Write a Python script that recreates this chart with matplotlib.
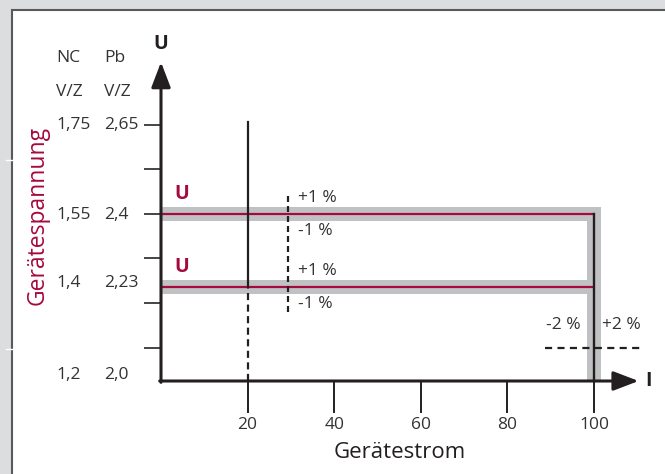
import matplotlib
matplotlib.use("Agg")
import matplotlib.pyplot as plt
from matplotlib.patches import Rectangle
from matplotlib.lines import Line2D

plt.rcParams['font.family'] = ['Open Sans', 'DejaVu Sans']

# data
x_ticks = [20, 40, 60, 80, 100]
y_ticks = [0.75, 1.75, 2.75, 3.75, 4.75, 5.75]
u_levels = [3.75, 2.1]                 # upper / lower voltage line
nc_labels = ['1,75', '1,55', '1,4', '1,2']
pb_labels = ['2,65', '2,4', '2,23', '2,0']
label_rows = [5.75, 3.72, 2.2, 0.14]
i_nominal = 100
i_test = 20
band = 0.16        # +-1% band (y units)
band_x = 1.7       # +-2% band (x units)

red = '#a6093d'
grey = '#c0c1c3'
dark = '#231f20'
txt = '#333333'

fig = plt.figure(figsize=(6.65, 4.74), dpi=100, facecolor='#dcdddf')

# white panel with border top/left
fig.patches.append(Rectangle((12 / 665, -0.1), 1.2, 1.1 - 10 / 474,
                             transform=fig.transFigure, facecolor='white',
                             edgecolor='#58595b', lw=1.5, zorder=-5))
for yy in [160, 349]:
    fig.lines.append(Line2D([6 / 665, 12 / 665], [1 - yy / 474] * 2,
                            transform=fig.transFigure, color='white', lw=1,
                            zorder=-4))

ax = fig.add_axes([0, 0, 1, 1])
ax.set_axis_off()
ax.set_zorder(1)
ax.set_xlim(-161 / 4.33, (665 - 161) / 4.33)
ax.set_ylim(-93 / 44.6, 381 / 44.6)

# grey tolerance bands
ax.add_patch(Rectangle((0, u_levels[0] - band), i_nominal + band_x, 2 * band,
                       facecolor=grey, edgecolor='none', zorder=1))
ax.add_patch(Rectangle((0, u_levels[1] - band), i_nominal, 2 * band,
                       facecolor=grey, edgecolor='none', zorder=1))
ax.add_patch(Rectangle((i_nominal - band_x, 0), 2 * band_x, u_levels[0] + band,
                       facecolor=grey, edgecolor='none', zorder=1))

# red voltage lines
for u in u_levels:
    ax.plot([0, i_nominal], [u, u], color=red, lw=1.6, zorder=3,
            solid_capstyle='butt')

# vertical line at nominal current
ax.plot([i_nominal, i_nominal], [0, u_levels[0]], color=dark, lw=1.7, zorder=3)

# vertical line at test current
ax.plot([i_test, i_test], [u_levels[1], 5.8], color=dark, lw=1.6, zorder=3)
ax.plot([i_test, i_test], [0, u_levels[1]], color=dark, lw=1.6, zorder=3,
        dashes=(3.2, 2.0))

# dashed marker for +-1%
ax.plot([29.4, 29.4], [1.55, 4.24], color=dark, lw=1.6, zorder=4,
        dashes=(2.7, 1.8))
# dashed marker for +-2%
ax.plot([88.7, 110.6], [0.74, 0.74], color=dark, lw=1.6, zorder=4,
        dashes=(3.2, 2.4))

# axes with arrows
arrow = dict(arrowstyle='-|>,head_length=1.1,head_width=0.42',
             color=dark, lw=2.2, mutation_scale=14, shrinkA=0, shrinkB=0)
ax.annotate('', xy=(110.3, 0), xytext=(-0.3, 0), arrowprops=arrow, zorder=5)
ax.annotate('', xy=(0, 7.15), xytext=(0, -0.03), arrowprops=arrow, zorder=5)

# ticks
for xt in x_ticks:
    ax.plot([xt, xt], [0, -0.7], color=dark, lw=1.4, zorder=4)
    ax.text(xt, -0.99, str(xt), ha='center', va='center', fontsize=12.5,
            color=txt)
for yt in y_ticks:
    ax.plot([-3.7, 0], [yt, yt], color='#444444', lw=1.4, zorder=4)

# y labels (two scales)
ax.text(-24.2, 7.24, 'NC', ha='left', va='center', fontsize=12.5, color=txt)
ax.text(-13.2, 7.24, 'Pb', ha='left', va='center', fontsize=12.5, color=txt)
ax.text(-24.2, 6.48, 'V/Z', ha='left', va='center', fontsize=12.5, color=txt)
ax.text(-13.2, 6.48, 'V/Z', ha='left', va='center', fontsize=12.5, color=txt)
for nc, pb, r in zip(nc_labels, pb_labels, label_rows):
    ax.text(-24.2, r, nc, ha='left', va='center', fontsize=12.5, color=txt)
    ax.text(-13.2, r, pb, ha='left', va='center', fontsize=12.5, color=txt)

# axis titles
ax.text(0, 7.55, 'U', ha='center', va='center', fontsize=14,
        fontweight='bold', color=dark)
ax.text(112.6, 0, 'I', ha='center', va='center', fontsize=14,
        fontweight='bold', color=dark)
ax.text(55.2, -1.61, 'Gerätestrom', ha='center', va='center', fontsize=16,
        color=dark)
ax.text(-28.4, 3.72, 'Gerätespannung', ha='center', va='center', fontsize=16.5,
        color=red, rotation=90)

# red U labels
for u in u_levels:
    ax.text(3.0, u + 0.45, 'U', ha='left', va='center', fontsize=14,
            fontweight='bold', color=red)

# tolerance labels
for u in u_levels:
    ax.text(31.6, u + 0.36, '+1 %', ha='left', va='center', fontsize=12.5,
            color=txt)
    ax.text(31.6, u - 0.38, '-1 %', ha='left', va='center', fontsize=12.5,
            color=txt)
ax.text(92.8, 1.26, '-2 %', ha='center', va='center', fontsize=12.5, color=txt)
ax.text(106.4, 1.26, '+2 %', ha='center', va='center', fontsize=12.5, color=txt)

fig.savefig('out.png', dpi=100, facecolor=fig.get_facecolor())
